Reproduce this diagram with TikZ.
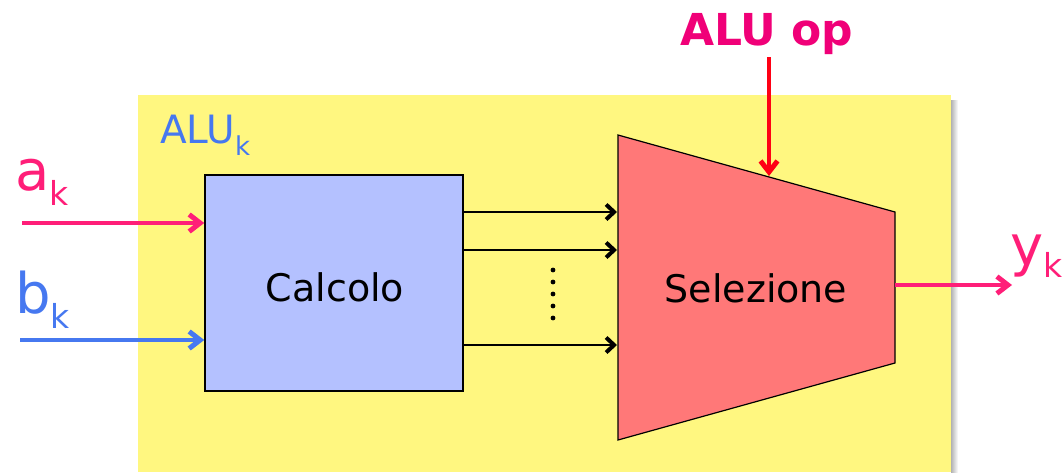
\documentclass[tikz,border=0pt]{standalone}
\usepackage{fontspec}
\setmainfont{DejaVu Sans}
\usetikzlibrary{arrows.meta}
\definecolor{aluyellow}{RGB}{255,247,128}
\definecolor{calcblue}{RGB}{180,193,255}
\definecolor{selred}{RGB}{255,120,120}
\definecolor{inpink}{RGB}{255,30,120}
\definecolor{oppink}{RGB}{240,0,120}
\definecolor{inblue}{RGB}{70,120,240}
\definecolor{opred}{RGB}{255,0,20}
\newcommand{\fsz}[1]{\fontsize{#1}{#1}\selectfont}
\begin{document}
\begin{tikzpicture}[x=1pt,y=-1pt,
  sig/.style={line width=3.5pt,-{Straight Barb[length=11pt,width=17pt,line width=5pt]}},
  bus/.style={line width=2pt,black,-{Straight Barb[length=8pt,width=15pt,line width=4pt]}},
  lbl/.style={anchor=base west,inner sep=0pt,outer sep=0pt},
  block/.style={draw=black,line width=1.5pt,inner sep=0pt}]
\useasboundingbox (0,0) rectangle (1063,472);
% ALU container
\fill[aluyellow] (138,95) rectangle (951,472);
\shade[left color=black!30,right color=white] (951,100) rectangle (958,472);
\node[lbl,text=inblue] (alulbl) at (160,143) {\fsz{39}ALU\raisebox{-12pt}{\fsz{26}k}};
% Calcolo
\node[block,fill=calcblue,minimum width=258pt,minimum height=216pt] (calc) at (334,283) {};
\node (calctxt) at (335,287) {\fsz{38}Calcolo};
% Selezione trapezoid
\coordinate (tl) at (618,135);
\coordinate (tr) at (895,212);
\coordinate (br) at (895,363);
\coordinate (bl) at (618,440);
\draw[fill=selred,line width=1.2pt] (tl) -- (tr) -- (br) -- (bl) -- cycle;
\node (seltxt) at (756,288) {\fsz{38}Selezione};
% buses Calcolo -> Selezione
\coordinate (s1) at (617,212);
\coordinate (s2) at (617,250);
\coordinate (s3) at (617,345);
\draw[bus] (calc.east |- s1) -- (s1);
\draw[bus] (calc.east |- s2) -- (s2);
\draw[bus] (calc.east |- s3) -- (s3);
\foreach \yy in {270,282,294,306,318} \fill[black] (553,\yy) circle (2.4pt);
% inputs
\node[lbl,text=inpink] (ak) at (15,190) {\fsz{56}a\raisebox{-15pt}{\fsz{33}k}};
\node[lbl,text=inblue] (bk) at (15,313) {\fsz{56}b\raisebox{-15pt}{\fsz{33}k}};
\coordinate (ain) at (22,223);
\coordinate (bin) at (20,340);
\draw[sig,draw=inpink] (ain) -- (calc.west |- ain);
\draw[sig,draw=inblue] (bin) -- (calc.west |- bin);
% output
\node[lbl,text=inpink] (yk) at (1010,265) {\fsz{56}y\raisebox{-12pt}{\fsz{33}k}};
\coordinate (yout) at (895,285);
\coordinate (yend) at (1012,285);
\draw[sig,draw=inpink] (yout) -- (yend);
% ALU op
\node[lbl,text=oppink] (aluop) at (680,45) {\fsz{44}\bfseries ALU op};
\coordinate (optop) at (769,57);
\coordinate (opin) at (769,176);
\draw[sig,draw=opred] (optop) -- (opin);
\end{tikzpicture}
\end{document}
